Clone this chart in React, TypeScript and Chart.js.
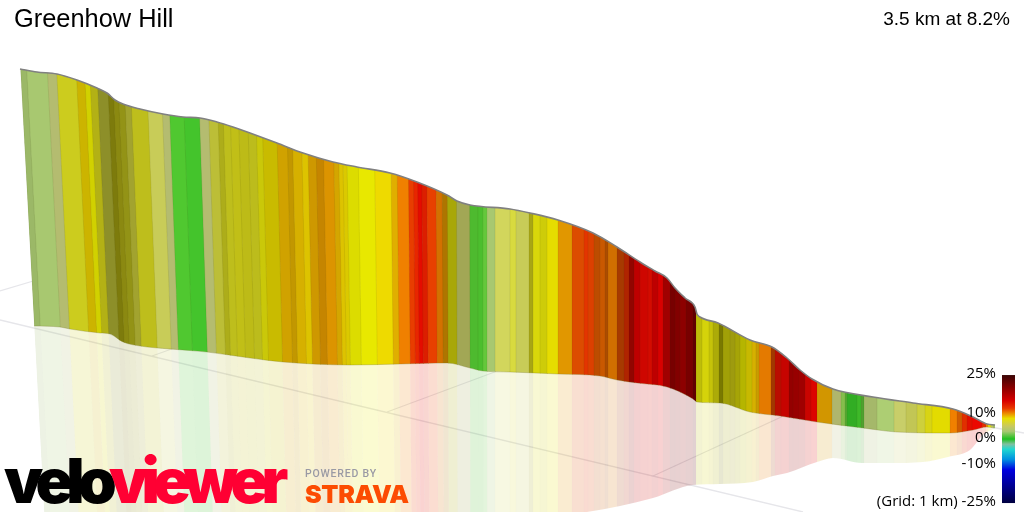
import React, { useEffect, useRef } from "react";
import { Chart, registerables } from "chart.js";

Chart.register(...registerables);

const titleText = "Greenhow Hill";
const summaryText = "3.5 km at 8.2%";
const gridNote = "(Grid: 1 km)";
const gradeTicks = [25, 10, 0, -10, -25];

// Ribbon outlines
const topX = [20, 37, 57, 77, 97, 107, 115, 123, 140, 163, 183, 200, 217, 233, 250, 277, 303, 333, 357, 390, 417, 447, 457, 470, 510, 530, 558, 593, 617, 640, 655, 667, 675, 685, 695, 697, 700, 718, 750, 772, 787, 800, 812, 833, 873, 913, 953, 973, 987, 995];
const topY = [69, 72, 74, 80, 88, 93, 100, 104, 109, 114, 117, 118, 122, 127, 133, 143, 153, 162, 167, 173, 182, 195, 201, 205, 209, 213, 220, 233, 247, 262, 271, 278, 288, 298, 307, 314, 317, 323, 340, 347, 358, 370, 379, 389, 397, 403, 409, 417, 424, 425];
const baseX = [34, 60, 70, 100, 110, 123, 140, 170, 207, 250, 283, 350, 400, 447, 470, 483, 510, 558, 600, 617, 637, 667, 693, 697, 720, 750, 780, 817, 863, 897, 950, 973, 987, 995];
const baseY = [326, 327, 329, 333, 334, 342, 346, 349, 352, 358, 362, 365, 364, 363, 368, 371, 372, 374, 376, 380, 383, 387, 399, 402, 403, 412, 416, 422, 428, 432, 433, 430, 427, 428];
const mirrorX = [47, 120, 300, 500, 587, 620, 653, 693, 720, 753, 773, 787, 817, 833, 862, 890, 923, 948, 970, 983, 995];
const mirrorY = [568, 560, 540, 525, 512, 506, 498, 485, 484, 482, 476, 473, 462, 458, 463, 463, 462, 457, 450, 435, 428];

// Strip edges at the reference row, with grade (%) and surface light of each strip
const edgeX = [
  35, 41, 61, 70, 89, 97, 102, 109, 119, 124, 129, 135, 141, 157, 171, 178, 192, 207, 216, 225,
  230, 237, 245, 254, 262, 268, 282, 292, 297, 306, 312, 320, 327, 337, 342, 346, 350, 361, 377, 393,
  399, 410, 415, 419, 423, 428, 437, 443, 448, 457, 470, 478, 483, 487, 495, 510, 516, 529, 533, 540,
  547, 558, 572, 584, 588, 594, 600, 605, 608, 617, 624, 629, 634, 640, 648, 652, 658, 663, 670, 675,
  680, 686, 693, 696, 702, 709, 713, 719, 723, 730, 735, 740, 746, 752, 756, 759, 771, 775, 781, 789,
  793, 799, 805, 811, 817, 832, 841, 845, 847, 857, 861, 864, 877, 894, 906, 917, 925, 932, 950, 957,
  962, 967, 972, 982, 986, 988, 991, 993, 996,
];
const stripGrade = [
  3, 3, 4, 6, 9, 8, 6.5, 5.5, 7, 6.5, 6, 5.5, 6, 5, 4, 0.5, 0.25, 4, 5.5, 6,
  6, 6.5, 6.5, 6, 7.5, 8.6, 9.5, 9.5, 9.3, 9, 9.7, 10, 10, 9.5, 9, 8.7, 8, 8, 8.7, 9.5,
  11, 12.6, 13.3, 14.5, 13.5, 12.5, 11, 10, 7.5, 4.5, 0.6, 0.5, 1, 3, 5, 5.5, 5, 6.5, 7.5, 7.5,
  8.4, 10, 12, 12.8, 12.4, 11.7, 11.5, 11.5, 11, 12, 13, 15, 16, 15, 14.5, 16, 16, 20, 21, 21,
  20, 21, 22, 7.5, 7.5, 7.5, 7.5, 8, 7.5, 7, 7.5, 8, 8.6, 9.3, 9.5, 11, 12, 14, 15.5, 19,
  20, 18, 15.5, 15.5, 9.8, 4, 2, 1, 0, 0.2, 1, 3.5, 3, 4.5, 5, 5.5, 7, 8.3, 11, 11.5,
  13, 14, 15, 13, 10.5, 8, 5, 3,
];
const stripLight = [
  0.92, 1, 1, 1, 0.85, 0.9, 0.85, 0.7, 0.58, 0.66, 0.72, 0.8, 0.93, 1, 1, 1, 1, 1, 0.93, 0.85,
  0.93, 0.92, 0.9, 0.92, 0.9, 0.85, 0.88, 0.82, 0.9, 0.92, 0.88, 0.85, 0.95, 0.9, 0.92, 0.92, 0.95, 1, 1, 0.95,
  1, 1, 1, 1, 0.95, 1, 0.88, 0.75, 0.75, 0.85, 0.93, 0.95, 1, 1, 1.05, 1.07, 1, 0.8, 0.97, 0.92,
  0.98, 0.97, 0.95, 0.98, 0.95, 0.8, 0.85, 0.73, 0.87, 0.72, 0.76, 0.65, 0.88, 0.92, 0.93, 0.88, 1, 1, 0.85, 0.92,
  0.88, 0.85, 0.8, 0.85, 0.95, 0.88, 0.77, 0.52, 0.72, 0.73, 0.74, 0.78, 0.84, 0.9, 0.85, 0.95, 0.7, 0.8, 0.9, 0.85,
  0.95, 0.85, 0.92, 1, 0.9, 0.97, 0.95, 0.85, 0.9, 0.95, 0.8, 0.95, 1.03, 1.05, 0.97, 1.02, 1, 0.97, 1, 0.88,
  0.97, 0.97, 1.05, 0.97, 1, 1, 1, 0.95,
];

// Grade colour ramp used on the ribbon
const rampGrades = [0, 0.5, 2, 3, 4, 5, 6, 7, 8, 9, 10, 11, 12, 13, 14, 16, 20, 25];
const rampColors = ["#38c028", "#50c830", "#8cc850", "#a8c870", "#b4bc70", "#c8cc58", "#cccc1e", "#d8d414", "#e8e800", "#f0d400", "#e89c00", "#f08000", "#e85000", "#e83000", "#e81000", "#d80000", "#a00000", "#400000"];
// Colour bar of the key
const keyGrades = [25, 20, 15, 12, 10, 8, 5, 3, 0, -2, -4, -8, -12, -25];
const keyColors = ["#3a0505", "#8a0000", "#d80000", "#e83800", "#ec8c00", "#e8e000", "#c8c860", "#a8c870", "#20c020", "#80c0a0", "#20d8d0", "#0090e0", "#0000e0", "#000040"];

// Ground grid
const gridLinesX = [[0, 803], [0, 40], [152, 180], [387, 500], [653, 790], [985, 1024]];
const gridLinesY = [[320, 512], [291, 279], [356, 346], [412, 370], [476, 413], [426, 433]];

const hexRgb = (h: string) => [1, 3, 5].map((i) => parseInt(h.slice(i, i + 2), 16));

function stripColor(grade: number, light: number, alpha = 1) {
  let i = 0;
  while (i < rampGrades.length - 2 && grade > rampGrades[i + 1]) i++;
  const t = Math.min(1, Math.max(0, (grade - rampGrades[i]) / (rampGrades[i + 1] - rampGrades[i])));
  const a = hexRgb(rampColors[i]);
  const b = hexRgb(rampColors[i + 1]);
  const c = a.map((v, k) => Math.min(255, Math.round((v + (b[k] - v) * t) * light)));
  return `rgba(${c[0]},${c[1]},${c[2]},${alpha})`;
}

const REF_ROW = 340;
const UPRIGHT_X = 490;
const DEPTH = 8500;
const edgeAt = (x0: number, y: number) => x0 + (Math.max(0, UPRIGHT_X - x0) / DEPTH) * (y - REF_ROW);

const PROFILE = 0;
const BASE = 1;
const MIRROR = 2;
const LAST_UNDER_RIBBON = 3;

const ribbonPlugin = {
  id: "ribbon",
  afterDatasetDraw(chart: any, args: any) {
    if (args.index !== LAST_UNDER_RIBBON) return;
    const { ctx, scales, chartArea } = chart;
    const px = (v: number) => scales.x.getPixelForValue(v);
    const py = (v: number) => scales.y.getPixelForValue(v);

    const linePoints = (index: number) => {
      const el = chart.getDatasetMeta(index).dataset;
      el.updateControlPoints(chartArea, "x");
      return el.points;
    };
    const forward = (pts: any[]) => {
      pts.forEach((p, i) => {
        if (i === 0) ctx.moveTo(p.x, p.y);
        else {
          const q = pts[i - 1];
          ctx.bezierCurveTo(q.cp2x, q.cp2y, p.cp1x, p.cp1y, p.x, p.y);
        }
      });
    };
    const backward = (pts: any[]) => {
      for (let i = pts.length - 1; i >= 0; i--) {
        const p = pts[i];
        if (i === pts.length - 1) ctx.lineTo(p.x, p.y);
        else {
          const q = pts[i + 1];
          ctx.bezierCurveTo(q.cp1x, q.cp1y, p.cp2x, p.cp2y, p.x, p.y);
        }
      }
    };

    const drawStrips = (upper: any[], lower: any[], alpha: number, seam: string, overlap: number) => {
      ctx.save();
      ctx.beginPath();
      forward(upper);
      backward(lower);
      ctx.closePath();
      ctx.clip();
      stripGrade.forEach((g, i) => {
        const l = edgeX[i];
        const r = edgeX[i + 1] + overlap;
        ctx.beginPath();
        ctx.moveTo(px(edgeAt(l, 0)), py(0));
        ctx.lineTo(px(edgeAt(r, 0)), py(0));
        ctx.lineTo(px(edgeAt(r, 600)), py(600));
        ctx.lineTo(px(edgeAt(l, 600)), py(600));
        ctx.closePath();
        ctx.fillStyle = stripColor(g, stripLight[i], alpha);
        ctx.fill();
        ctx.beginPath();
        ctx.moveTo(px(edgeAt(l, 0)), py(0));
        ctx.lineTo(px(edgeAt(l, 600)), py(600));
        ctx.strokeStyle = seam;
        ctx.lineWidth = 1;
        ctx.stroke();
      });
      ctx.restore();
    };

    const top = linePoints(PROFILE);
    const base = linePoints(BASE);
    const mirror = linePoints(MIRROR);
    drawStrips(base, mirror, 0.18, "rgba(0,0,0,0.008)", 0);
    drawStrips(top, base, 1, "rgba(60,50,0,0.09)", 0.6);
  },
  afterDraw(chart: any) {
    const { ctx, scales } = chart;
    const gy = (v: number) => scales.grade.getPixelForValue(v);
    const px = (v: number) => scales.x.getPixelForValue(v);
    ctx.save();

    // colour key
    const top = gy(25);
    const bot = gy(-25);
    const grad = ctx.createLinearGradient(0, top, 0, bot);
    keyGrades.forEach((g, i) => grad.addColorStop((25 - g) / 50, keyColors[i]));
    ctx.fillStyle = grad;
    ctx.fillRect(px(1002), top, 13, bot - top);

    ctx.fillStyle = "#000";
    ctx.textBaseline = "middle";
    ctx.textAlign = "right";
    ctx.font = '15px "Open Sans"';
    gradeTicks.forEach((g) => {
      const label = g === -25 ? `${gridNote} ${g}%` : `${g}%`;
      ctx.fillText(label, px(996), gy(g) - 1);
    });

    // headings
    ctx.textAlign = "left";
    ctx.font = '25.4px "Liberation Sans"';
    ctx.fillText(titleText, 14, 20);
    ctx.textAlign = "right";
    ctx.font = '19px "Liberation Sans"';
    ctx.fillText(summaryText, 1010, 20);

    // brand marks
    ctx.textAlign = "left";
    ctx.textBaseline = "alphabetic";
    ctx.font = '900 62px "Inter"';
    ctx.letterSpacing = "-6.7px";
    ctx.fillStyle = "#000";
    ctx.fillText("velo", 4, 503);
    const w = ctx.measureText("velo").width;
    ctx.fillStyle = "#ff0033";
    ctx.fillText("viewer", 3 + w, 503);
    ctx.letterSpacing = "0.8px";
    ctx.font = '500 10.5px "Roboto"';
    ctx.fillStyle = "#9a9aa4";
    ctx.fillText("POWERED BY", 305, 477);
    ctx.letterSpacing = "-0.3px";
    ctx.font = '900 25px "Inter"';
    ctx.fillStyle = "#fc4c02";
    ctx.fillText("STRAVA", 305, 503);
    ctx.restore();
  },
};

export default function App() {
  const ref = useRef<HTMLCanvasElement>(null);
  useEffect(() => {
    const edgeSet = (label: string, xs: number[], ys: number[], color: string, width: number) => ({
      label,
      data: xs.map((x, i) => ({ x, y: ys[i] })),
      borderColor: color,
      borderWidth: width,
      cubicInterpolationMode: "monotone",
      pointRadius: 0,
      showLine: true,
      fill: false,
    });
    const gridSets = gridLinesX.map((xs, k) => ({
      label: `grid ${k + 1}`,
      data: xs.map((x, i) => ({ x, y: gridLinesY[k][i] })),
      borderColor: "#e6e6ea",
      borderWidth: 1.3,
      pointRadius: 0,
      showLine: true,
      fill: false,
    }));
    const chart = new Chart(ref.current!, {
      type: "scatter",
      data: {
        datasets: [
          edgeSet("profile", topX, topY, "#808080", 1.6),
          edgeSet("base", baseX, baseY, "rgba(120,120,40,0.3)", 1),
          edgeSet("reflection", mirrorX, mirrorY, "rgba(0,0,0,0)", 0),
          ...gridSets,
        ],
      },
      options: {
        responsive: false,
        animation: false,
        layout: { padding: 0 },
        plugins: { legend: { display: false }, tooltip: { enabled: false } },
        scales: {
          x: { type: "linear", min: 0, max: 1024, display: false },
          y: { type: "linear", min: 0, max: 512, reverse: true, display: false },
          grade: { axis: "y", type: "linear", min: -28.5, max: 171.5, display: false },
        },
      },
      plugins: [ribbonPlugin],
    } as any);
    return () => chart.destroy();
  }, []);
  return (
    <div style={{ position: "fixed", left: 0, top: 0, width: 1024, height: 512, background: "#fff" }}>
      <canvas ref={ref} width={1024} height={512} style={{ display: "block" }} />
    </div>
  );
}
